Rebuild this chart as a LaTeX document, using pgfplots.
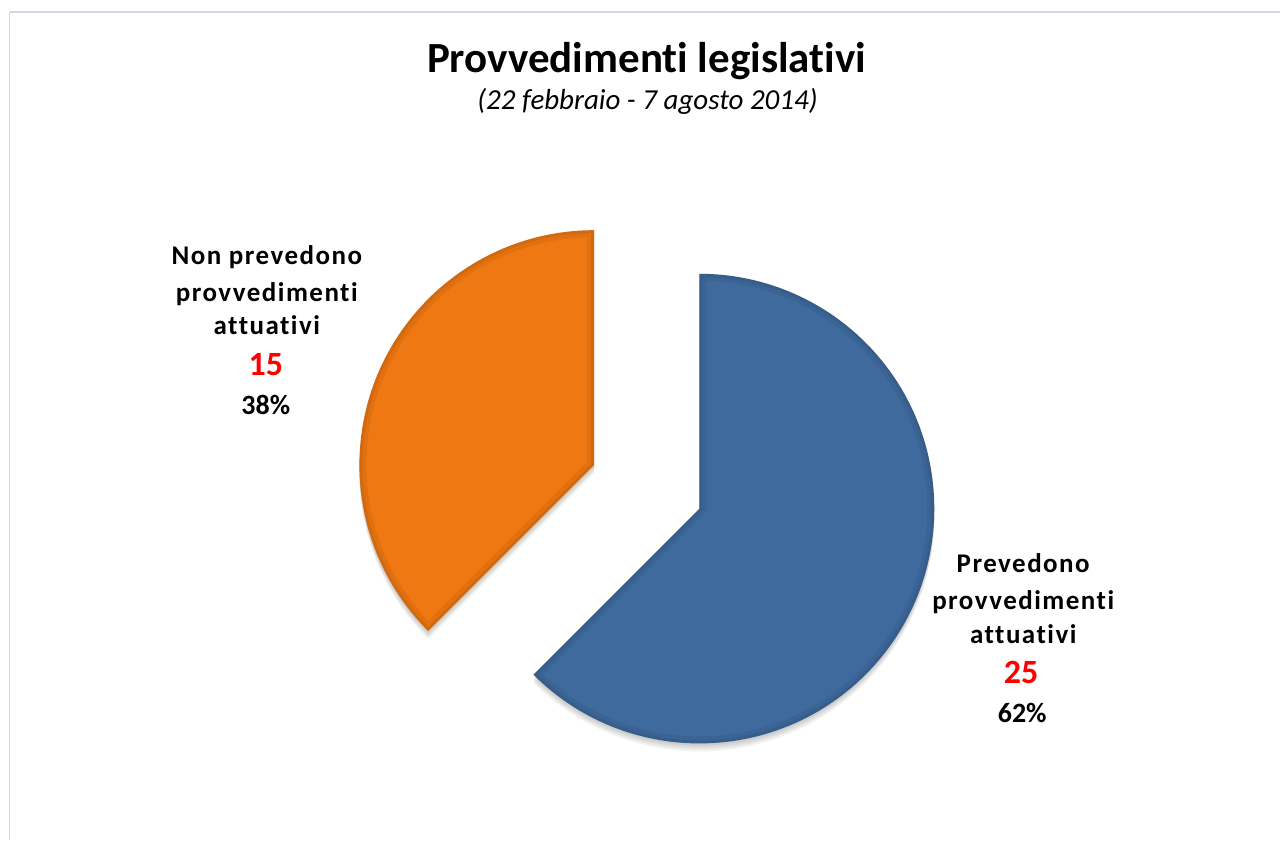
\documentclass[border=0pt]{standalone}
\usepackage{fontspec}
\setmainfont{Carlito}[Ligatures=NoCommon]
\newfontfamily\labelfont{Carlito}[LetterSpace=5.5, Ligatures=NoCommon]
\usepackage{pgfplots}
\usepackage{pgfplotstable}
\pgfplotsset{compat=1.18}

\definecolor{pieblue}{RGB}{63,106,158}
\definecolor{pieorange}{RGB}{240,120,18}
\definecolor{framegray}{RGB}{208,216,228}
\definecolor{numred}{RGB}{255,0,0}

% slices of the pie
\pgfplotstableread{
slice value
Prevedono 25
NonPrevedono 15
}\piedata

% sector path: centre, start angle, end angle, radius
\newcommand\sector[4]{(#1) -- ++(#2:#4) arc[start angle=#2, end angle=#3, radius=#4] -- cycle}

\begin{document}
\begin{tikzpicture}[
  lbl/.style={anchor=base, font=\labelfont\fontsize{27}{30}\selectfont\bfseries},
  num/.style={anchor=base, font=\fontsize{34}{38}\selectfont\bfseries, text=numred},
  pct/.style={anchor=base, font=\fontsize{28}{30}\selectfont\bfseries},
]
\pgfplotstablegetelem{0}{value}\of\piedata \let\vA\pgfplotsretval
\pgfplotstablegetelem{1}{value}\of\piedata \let\vB\pgfplotsretval
\pgfmathsetmacro\startA{90-360*\vA/(\vA+\vB)}
\pgfmathsetmacro\endB{90+360*\vB/(\vA+\vB)}
\pgfmathsetmacro\midB{(90+\endB)/2}
\begin{axis}[
  hide axis,
  scale only axis,
  width=1281pt, height=841pt,
  xmin=0, xmax=1281, ymin=0, ymax=841,
  clip=false,
]
  \fill[white] (axis cs:0,0) rectangle (axis cs:1281,841);
  \draw[framegray, line width=2pt] (axis cs:10,829) -- (axis cs:1281,829);
  \draw[framegray, line width=1pt] (axis cs:10,829) -- (axis cs:10,0);

  % soft shadows
  \pgfplotsinvokeforeach{2,4,6,8}{
    \fill[black, opacity=0.05]
      \sector{[yshift=-#1pt]axis cs:700,332}{\startA}{90}{235pt};
    \fill[black, opacity=0.05]
      \sector{[yshift=-#1pt, shift={(\midB:114pt)}]axis cs:700,332}{90}{\endB}{235pt};
  }

  % blue slice
  \fill[pieblue] \sector{axis cs:700,332}{\startA}{90}{235pt};
  \begin{scope}
    \clip \sector{axis cs:700,332}{\startA}{90}{235pt};
    \draw[black, opacity=0.06, line width=14pt] \sector{axis cs:700,332}{\startA}{90}{235pt};
    \draw[black, opacity=0.06, line width=6pt] \sector{axis cs:700,332}{\startA}{90}{235pt};
  \end{scope}

  % orange slice, exploded
  \fill[pieorange] \sector{[shift={(\midB:114pt)}]axis cs:700,332}{90}{\endB}{235pt};
  \begin{scope}
    \clip \sector{[shift={(\midB:114pt)}]axis cs:700,332}{90}{\endB}{235pt};
    \draw[black, opacity=0.06, line width=14pt] \sector{[shift={(\midB:114pt)}]axis cs:700,332}{90}{\endB}{235pt};
    \draw[black, opacity=0.06, line width=6pt] \sector{[shift={(\midB:114pt)}]axis cs:700,332}{90}{\endB}{235pt};
  \end{scope}

  % titles
  \node[anchor=base, font=\fontsize{43}{48}\selectfont\bfseries] at (axis cs:647,768) {Provvedimenti legislativi};
  \node[anchor=base, font=\fontsize{29}{32}\selectfont\itshape] at (axis cs:648,731) {(22 febbraio - 7 agosto 2014)};

  % left label
  \node[lbl] at (axis cs:267,576) {Non prevedono};
  \node[lbl] at (axis cs:267,539) {provvedimenti};
  \node[lbl] at (axis cs:267,506) {attuativi};
  \node[num] at (axis cs:266,465) {15};
  \node[pct] at (axis cs:266,426) {38\%};

  % right label
  \node[lbl] at (axis cs:1024,268) {Prevedono};
  \node[lbl] at (axis cs:1024,231) {provvedimenti};
  \node[lbl] at (axis cs:1024,197) {attuativi};
  \node[num] at (axis cs:1022,157) {25};
  \node[pct] at (axis cs:1023,118) {62\%};
\end{axis}
\end{tikzpicture}
\end{document}
